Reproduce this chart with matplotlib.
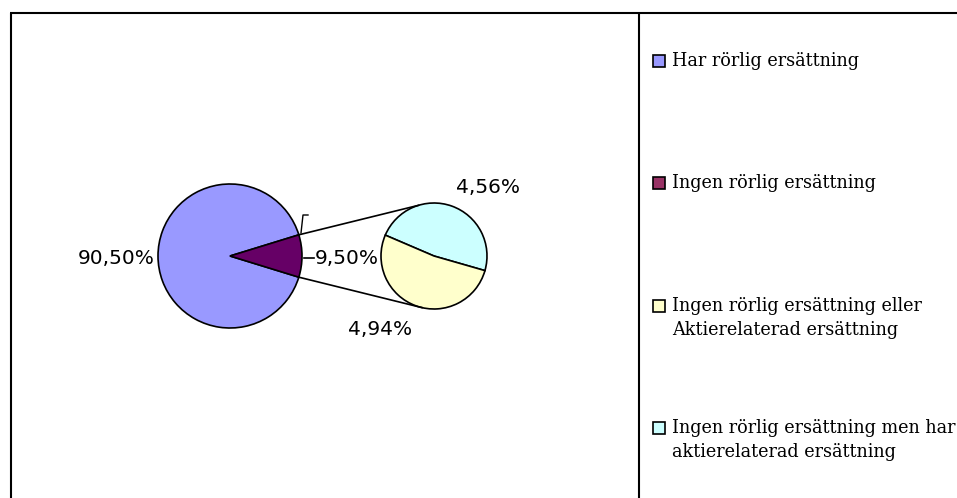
import numpy as np
import matplotlib
matplotlib.use("Agg")
import matplotlib.pyplot as plt
from matplotlib.patches import Rectangle

# ---- data ----
main_labels = ["Har rörlig ersättning", "Ingen rörlig ersättning"]
main_values = [90.50, 9.50]
sub_labels = ["Ingen rörlig ersättning men har\naktierelaterad ersättning",
              "Ingen rörlig ersättning eller\nAktierelaterad ersättning"]
sub_values = [4.56, 4.94]
legend_labels = ["Har rörlig ersättning",
                 "Ingen rörlig ersättning",
                 "Ingen rörlig ersättning eller\nAktierelaterad ersättning",
                 "Ingen rörlig ersättning men har\naktierelaterad ersättning"]

# ---- styles ----
main_colors = ["#9999FF", "#660066"]
sub_colors = ["#CCFFFF", "#FFFFCC"]
legend_colors = ["#9999FF", "#993366", "#FFFFCC", "#CCFFFF"]

W, H = 957, 498
fig = plt.figure(figsize=(W / 100, H / 100), dpi=100)
ax = fig.add_axes([0, 0, 1, 1])

def Y(y):  # screen y -> data y
    return H - y

# main pie
c1 = (230, Y(256)); r1 = 72
half = main_values[1] / sum(main_values) * 360 / 2
ax.pie(main_values, colors=main_colors, center=c1, radius=r1,
       startangle=half, counterclock=True,
       wedgeprops=dict(edgecolor="black", linewidth=1.2), frame=True)

# secondary pie
c2 = (434, Y(256)); r2 = 53
ax.pie(sub_values, colors=sub_colors, center=c2, radius=r2,
       startangle=-16, counterclock=True,
       wedgeprops=dict(edgecolor="black", linewidth=1.2), frame=True)
ax.set_xlim(0, W)
ax.set_ylim(0, H)
ax.set_aspect("auto")
ax.axis("off")

# frame
lw_frame = 1.5
ax.plot([10, W], [Y(13), Y(13)], color="black", lw=lw_frame, solid_capstyle="butt")
ax.plot([11, 11], [Y(13), 0], color="black", lw=lw_frame, solid_capstyle="butt")
ax.plot([639, 639], [Y(13), 0], color="black", lw=lw_frame, solid_capstyle="butt")

# connector lines
for sgn, ang2 in [(1, 107), (-1, -103)]:
    a1 = np.deg2rad(sgn * half)
    p1 = (c1[0] + r1 * np.cos(a1), c1[1] + r1 * np.sin(a1))
    a2 = np.deg2rad(ang2)
    p2 = (c2[0] + r2 * np.cos(a2), c2[1] + r2 * np.sin(a2))
    ax.plot([p1[0], p2[0]], [p1[1], p2[1]], color="black", lw=1.2)

def fmt(v):
    return f"{v:.2f}".replace(".", ",") + "%"

lab_font = dict(family="DejaVu Sans", fontsize=14.5, color="black")
ax.text(155, Y(258), fmt(main_values[0]), ha="right", va="center", **lab_font)
# leader for small main slice
ax.plot([304, 314], [Y(258), Y(258)], color="black", lw=1.2)
ax.plot([301, 303, 308], [Y(233), Y(215), Y(215)], color="black", lw=1.0)
ax.text(315, Y(258), fmt(main_values[1]), ha="left", va="center", **lab_font)
ax.text(488, Y(187), fmt(sub_values[0]), ha="center", va="center", **lab_font)
ax.text(380, Y(329), fmt(sub_values[1]), ha="center", va="center", **lab_font)

# legend
leg_font = dict(family="DejaVu Serif", fontsize=12.7, color="black")
leg_y = [61, 183, 306, 428]
for lab, col, y in zip(legend_labels, legend_colors, leg_y):
    ax.add_patch(Rectangle((653, Y(y) - 6), 12, 12, facecolor=col,
                           edgecolor="black", lw=1.2))
    ax.text(672, Y(y - 9), lab, ha="left", va="top", linespacing=1.4,
            **leg_font)

fig.savefig("out.png", dpi=100)
